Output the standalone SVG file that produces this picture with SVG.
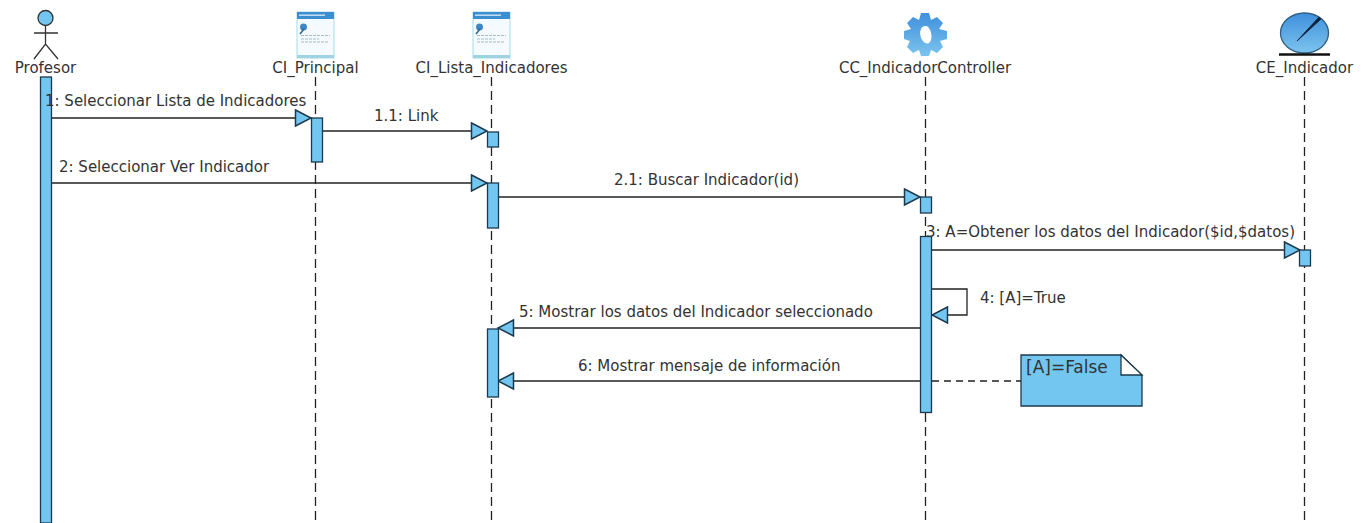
<svg xmlns="http://www.w3.org/2000/svg" width="1367" height="523" viewBox="0 0 1367 523">
<defs>
<style>
text{font-family:"DejaVu Sans",sans-serif;font-size:15px;fill:#333}
.life{stroke:#222;stroke-width:1.3;stroke-dasharray:9 5;fill:none}
.act{fill:#72c6f0;stroke:#1d3a4c;stroke-width:1.3}
.msg{stroke:#222;stroke-width:1.3;fill:none}
.head{fill:#72c6f0;stroke:#1d3a4c;stroke-width:1.5}
.ln{stroke:#333;stroke-width:1.3;fill:none}
</style>
<linearGradient id="g" x1="0" y1="0" x2="0" y2="1"><stop offset="0" stop-color="#3f8fdc"/><stop offset="1" stop-color="#7cc4ee"/></linearGradient>
<g id="win">
<rect x="0" y="0" width="37" height="46" fill="#f4fafd" stroke="#a8dbe8" stroke-width="1"/>
<rect x="0" y="0" width="37" height="7" fill="#3b8ed0"/>
<rect x="2" y="2.500" width="26" height="1.400" fill="#cfe6f6"/>
<rect x="0" y="43" width="37" height="3" fill="#9fd3e2"/>
<circle cx="6.500" cy="15" r="3.500" fill="#3f86c4"/>
<path d="M3 22 L7 17" stroke="#2f5f88" stroke-width="1.500"/>
<path d="M4 23.500H33M4 27H22M4 30H31" stroke="#a6bccd" stroke-width="1" stroke-dasharray="3 1"/>
</g>
</defs>
<rect width="1367" height="523" fill="#fff"/>
<g id="connectors">
<path class="life" d="M315.500 77V523M491.500 77V523M925.500 77V523M1304.500 77V523"/>
<path class="msg" d="M51 118H296"/><path class="head" d="M295.500 110L311 118L295.500 126Z"/>
<path class="msg" d="M322 131H472"/><path class="head" d="M471.500 123L487 131L471.500 139Z"/>
<path class="msg" d="M51 183H472"/><path class="head" d="M471.500 175L487 183L471.500 191Z"/>
<path class="msg" d="M498 197H905"/><path class="head" d="M904.500 189L920 197L904.500 205Z"/>
<path class="msg" d="M932 250H1285"/><path class="head" d="M1284.500 242L1300 250L1284.500 258Z"/>
<path class="msg" d="M932 289H967V315H947"/><path class="head" d="M947.500 307L932 315L947.500 323Z"/>
<path class="msg" d="M921 328H513"/><path class="head" d="M513.500 320L498 328L513.500 336Z"/>
<path class="msg" d="M921 381H513"/><path class="head" d="M513.500 373L498 381L513.500 389Z"/>
<path d="M932 381H1021" stroke="#222" stroke-width="1.300" stroke-dasharray="7 5" fill="none"/>
</g>
<g id="profesor">
<circle cx="45.500" cy="18" r="7.500" fill="#72c6f0" stroke="#333" stroke-width="1.300"/>
<path class="ln" d="M45.500 25.500V44M34 33H58M34 59L45.500 44L58 59"/>
<text x="45.500" y="73" text-anchor="middle">Profesor</text>
<rect class="act" x="40.500" y="77" width="11" height="446"/>
</g>
<g id="ci_principal">
<use href="#win" x="297" y="12"/>
<text x="315.500" y="73" text-anchor="middle">CI_Principal</text>
<rect class="act" x="311.500" y="118" width="11" height="44"/>
</g>
<g id="ci_lista">
<use href="#win" x="473" y="12"/>
<text x="491.500" y="73" text-anchor="middle">CI_Lista_Indicadores</text>
<rect class="act" x="487.500" y="132" width="11" height="15"/>
<rect class="act" x="487.500" y="183" width="11" height="45"/>
<rect class="act" x="487.500" y="329" width="11" height="68"/>
</g>
<g id="cc_controller">
<path fill="url(#g)" fill-rule="evenodd" d="M921 13L929 13L931 20L937 17L943 23L939 29L947 31L947 39L940 41L943 47L937 53L931 50L929 56L921 56L919 50L913 53L907 47L910 41L904 39L904 31L911 29L907 23L913 17L919 20ZM925.500 26C921 26 919.500 31 920.500 36C921.500 41 926 45 929 43C932 41 932 35 930.500 31C929.500 28 928 26 925.500 26Z"/>
<text x="925" y="73" text-anchor="middle">CC_IndicadorController</text>
<rect class="act" x="920.500" y="197" width="11" height="16"/>
<rect class="act" x="920.500" y="236.500" width="11" height="176"/>
</g>
<g id="ce_indicador">
<ellipse cx="1304.500" cy="33" rx="24" ry="20" fill="url(#g)" stroke="#2d5d80" stroke-width="1.300"/>
<path d="M1297 41L1319 17L1321 19Z" fill="#0c2238" stroke="#0c2238" stroke-width="0.800"/>
<path d="M1279 54.500H1330" stroke="#111" stroke-width="2.500"/>
<text x="1304.500" y="73" text-anchor="middle">CE_Indicador</text>
<rect class="act" x="1299.500" y="250" width="11" height="16"/>
</g>
<g id="labels">
<text x="45" y="106">1: Seleccionar Lista de Indicadores</text>
<text x="374" y="121">1.1: Link</text>
<text x="59" y="172">2: Seleccionar Ver Indicador</text>
<text x="614" y="185">2.1: Buscar Indicador(id)</text>
<text x="926" y="237">3: A=Obtener los datos del Indicador($id,$datos)</text>
<text x="980" y="303">4: [A]=True</text>
<text x="519" y="317">5: Mostrar los datos del Indicador seleccionado</text>
<text x="578" y="371">6: Mostrar mensaje de información</text>
</g>
<g id="note">
<path class="act" d="M1021 355H1121L1142 375V406H1021Z"/>
<path d="M1121 355L1142 375H1121Z" fill="#fff" stroke="#1d3a4c" stroke-width="1.300"/>
<text x="1026" y="373" style="font-size:17px">[A]=False</text>
</g>
</svg>
